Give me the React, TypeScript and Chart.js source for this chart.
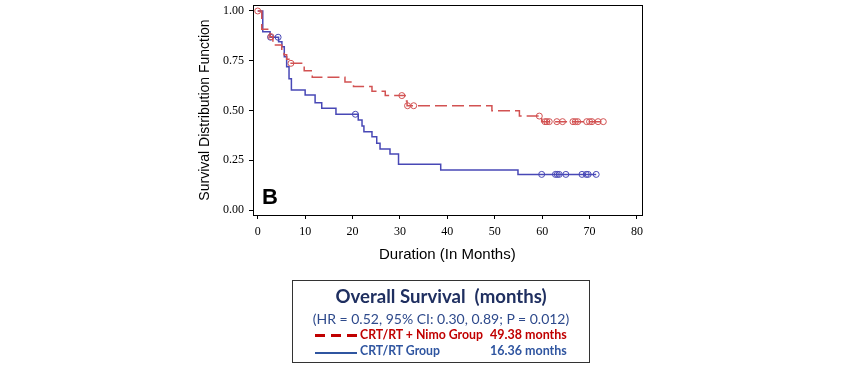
import React, { useEffect, useRef } from "react";
import { Chart, registerables } from "chart.js";

Chart.register(...registerables);

// Kaplan-Meier step data (time in months, survival after event)
const nimoTimes = [0, 0.85, 2.6, 3.2, 5.07, 5.55, 6.1, 6.6, 9.8, 11.5, 18.4, 20.2, 24.1, 26.9, 31.1, 31.5, 49.4, 55.2, 59.9, 72.9];
const nimoSurv = [1.0, 0.908, 0.871, 0.829, 0.804, 0.78, 0.757, 0.737, 0.7, 0.667, 0.643, 0.62, 0.597, 0.575, 0.548, 0.524, 0.499, 0.472, 0.444, 0.444];
const nimoCensored = [0, 2.8, 7.0, 30.4, 31.6, 32.9, 59.4, 60.6, 61.0, 61.5, 63.1, 64.3, 66.5, 67.0, 67.5, 69.4, 70.0, 70.5, 71.8, 72.9];

const rtTimes = [0, 1.06, 2.6, 4.4, 5.1, 5.6, 6.1, 6.6, 7.1, 10.0, 12.1, 13.5, 16.5, 21.2, 22.0, 22.4, 24.1, 25.1, 25.8, 27.9, 29.7, 38.6, 54.9, 71.4];
const rtSurv = [1.0, 0.896, 0.868, 0.846, 0.82, 0.77, 0.72, 0.66, 0.603, 0.578, 0.539, 0.511, 0.481, 0.452, 0.422, 0.393, 0.368, 0.335, 0.306, 0.281, 0.23, 0.201, 0.179, 0.179];
const rtCensored = [2.7, 4.3, 20.6, 59.9, 62.8, 63.2, 63.6, 65.0, 68.4, 69.3, 69.7, 71.4];

const xTicks = [0, 10, 20, 30, 40, 50, 60, 70, 80];
const yTicks = [0, 0.25, 0.5, 0.75, 1.0];

const nimoColor = "#d25252";
const rtColor = "#4848b6";

function survAt(times: number[], surv: number[], t: number) {
  let v = surv[0];
  for (let i = 0; i < times.length; i++) {
    if (times[i] <= t) v = surv[i];
  }
  return v;
}

const framePlugin = {
  id: "frameAndLabel",
  afterDraw(chart: any) {
    const { ctx, chartArea: a } = chart;
    ctx.save();
    ctx.strokeStyle = "#000";
    ctx.lineWidth = 1;
    ctx.strokeRect(Math.round(a.left) + 0.5, Math.round(a.top) + 0.5, Math.round(a.right - a.left), Math.round(a.bottom - a.top));
    ctx.fillStyle = "#000";
    ctx.font = 'bold 22px "Liberation Sans"';
    ctx.textBaseline = "alphabetic";
    ctx.fillText("B", a.left + 9, a.bottom - 11);
    ctx.restore();
  },
};

export default function App() {
  const ref = useRef<HTMLCanvasElement>(null);

  useEffect(() => {
    if (!ref.current) return;
    const chart = new Chart(ref.current, {
      type: "line",
      data: {
        datasets: [
          {
            label: "CRT/RT + Nimo Group",
            data: nimoTimes.map((t, i) => ({ x: t, y: nimoSurv[i] })),
            borderColor: nimoColor,
            borderWidth: 1.5,
            borderDash: [12, 5],
            stepped: "before",
            pointRadius: 0,
            fill: false,
          },
          {
            label: "CRT/RT Group",
            data: rtTimes.map((t, i) => ({ x: t, y: rtSurv[i] })),
            borderColor: rtColor,
            borderWidth: 1.5,
            stepped: "before",
            pointRadius: 0,
            fill: false,
          },
          {
            label: "Nimo censored",
            data: nimoCensored.map((t) => ({ x: t, y: survAt(nimoTimes, nimoSurv, t) })),
            showLine: false,
            pointStyle: "circle",
            pointRadius: 3,
            pointBorderWidth: 1,
            pointBorderColor: nimoColor,
            pointBackgroundColor: "rgba(255,255,255,0)",
          },
          {
            label: "RT censored",
            data: rtCensored.map((t) => ({ x: t, y: survAt(rtTimes, rtSurv, t) })),
            showLine: false,
            pointStyle: "circle",
            pointRadius: 3,
            pointBorderWidth: 1,
            pointBorderColor: rtColor,
            pointBackgroundColor: "rgba(255,255,255,0)",
          },
        ],
      },
      options: {
        animation: false,
        responsive: false,
        devicePixelRatio: 1,
        layout: { padding: { left: 192.6, right: 202.3, top: 5, bottom: 101 } },
        plugins: { legend: { display: false }, tooltip: { enabled: false } },
        scales: {
          x: {
            type: "linear",
            min: -1,
            max: 81,
            afterBuildTicks: (s: any) => {
              s.ticks = xTicks.map((v) => ({ value: v }));
            },
            afterFit: (s: any) => {
              s.height = 53;
              s.paddingLeft = 0;
              s.paddingRight = 0;
            },
            ticks: {
              autoSkip: false,
              maxRotation: 0,
              padding: 6,
              color: "#000",
              font: { family: "Liberation Serif", size: 12 },
            },
            grid: { drawOnChartArea: false, drawTicks: true, tickLength: 4, color: "#000" },
            border: { display: false },
            title: {
              display: true,
              text: "Duration (In Months)",
              color: "#000",
              font: { family: "Liberation Sans", size: 15 },
              padding: { top: 4, bottom: 4 },
            },
          },
          y: {
            type: "linear",
            min: -0.025,
            max: 1.03,
            afterBuildTicks: (s: any) => {
              s.ticks = yTicks.map((v) => ({ value: v }));
            },
            afterFit: (s: any) => {
              s.width = 60.4;
              s.paddingTop = 0;
              s.paddingBottom = 0;
            },
            ticks: {
              padding: 5,
              color: "#000",
              font: { family: "Liberation Serif", size: 12 },
              callback: (v: any) => Number(v).toFixed(2),
            },
            grid: { drawOnChartArea: false, drawTicks: true, tickLength: 4, color: "#000" },
            border: { display: false },
            title: {
              display: true,
              text: "Survival Distribution Function",
              color: "#000",
              font: { family: "Liberation Sans", size: 14 },
              padding: { top: 4, bottom: 4 },
            },
          },
        },
      },
      plugins: [framePlugin],
    });
    return () => chart.destroy();
  }, []);

  const legendFont = "Lato, 'Open Sans', sans-serif";
  return (
    <div style={{ position: "absolute", left: 0, top: 0, width: 844, height: 369, background: "#fff" }}>
      <canvas ref={ref} width={844} height={369} style={{ display: "block", width: 844, height: 369 }} />
      <div
        style={{
          position: "absolute",
          left: 292,
          top: 280,
          width: 298,
          height: 83,
          boxSizing: "border-box",
          border: "1px solid #333",
          fontFamily: legendFont,
        }}
      >
        <div style={{ position: "absolute", left: 0, right: 0, top: 4, textAlign: "center", fontWeight: 700, fontSize: 18.6, lineHeight: "22px", color: "#1f2f60" }}>
          Overall Survival&nbsp; (months)
        </div>
        <div style={{ position: "absolute", left: 0, right: 0, top: 29, textAlign: "center", fontSize: 14, lineHeight: "18px", color: "#2e4a8c" }}>
          (HR = 0.52, 95% CI: 0.30, 0.89; P = 0.012)
        </div>
        <div
          style={{
            position: "absolute",
            left: 22,
            top: 53,
            width: 42,
            height: 3,
            background: "repeating-linear-gradient(to right, #c00000 0px, #c00000 10px, transparent 10px, transparent 16px)",
          }}
        />
        <div style={{ position: "absolute", left: 67, top: 46, fontWeight: 700, fontSize: 12.3, lineHeight: "16px", color: "#c00000", whiteSpace: "nowrap" }}>
          CRT/RT + Nimo Group
        </div>
        <div style={{ position: "absolute", left: 197, top: 46, fontWeight: 700, fontSize: 12.5, lineHeight: "16px", color: "#c00000", whiteSpace: "nowrap" }}>
          49.38 months
        </div>
        <div style={{ position: "absolute", left: 22, top: 71, width: 42, height: 0, borderTop: "2px solid #2f55a0" }} />
        <div style={{ position: "absolute", left: 67, top: 62, fontWeight: 700, fontSize: 12.3, lineHeight: "16px", color: "#2f55a0", whiteSpace: "nowrap" }}>
          CRT/RT Group
        </div>
        <div style={{ position: "absolute", left: 197, top: 62, fontWeight: 700, fontSize: 12.5, lineHeight: "16px", color: "#2f55a0", whiteSpace: "nowrap" }}>
          16.36 months
        </div>
      </div>
    </div>
  );
}
